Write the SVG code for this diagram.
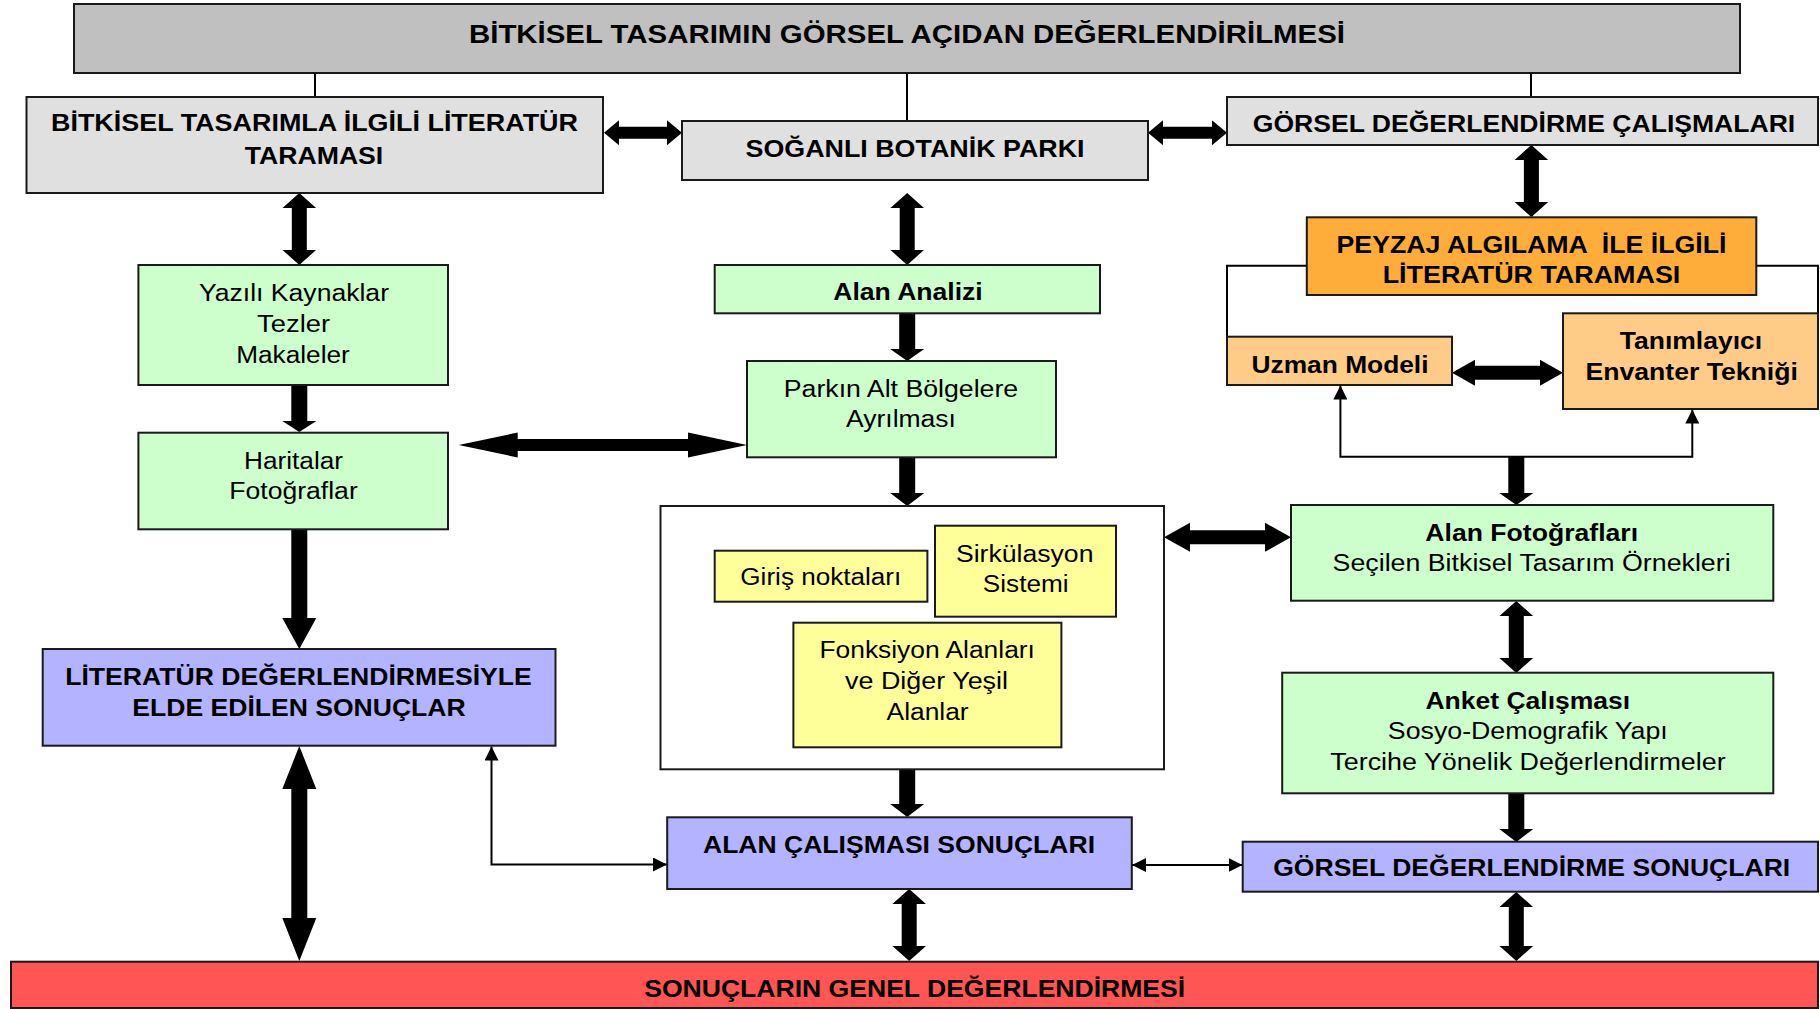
<svg xmlns="http://www.w3.org/2000/svg" width="1820" height="1009" viewBox="0 0 1820 1009">
<defs>
<style>
.box{stroke:#1a1a1a;stroke-width:2}
.gray{fill:#c0c0c0}.lgray{fill:#e0e0e0}.green{fill:#ccffcc}.yellow{fill:#ffff99}.lav{fill:#b3b3ff}.red{fill:#ff5555}.orange{fill:#ffad3a}.lorange{fill:#ffcc88}.white{fill:#ffffff}
text{font-family:"Liberation Sans",Arial,sans-serif;text-anchor:middle;fill:#000}
.t{font-size:26px;font-weight:bold}
.b{font-size:24px;font-weight:bold}
.r{font-size:23px}
.arrow{fill:#000}
.thin{fill:none;stroke:#000;stroke-width:2}
</style>
<marker id="ah" viewBox="0 0 14 14" refX="14" refY="7" markerWidth="14" markerHeight="14" markerUnits="userSpaceOnUse" orient="auto-start-reverse"><path d="M0,0 L14,7 L0,14 z" fill="#000"/></marker>
</defs>
<rect width="1820" height="1009" fill="#ffffff"/>

<g id="connectors">
<line class="thin" x1="315" y1="73" x2="315" y2="97"/>
<line class="thin" x1="907" y1="73" x2="907" y2="121"/>
<line class="thin" x1="1531" y1="73" x2="1531" y2="97"/>
<polygon class="arrow" points="604,132.7 619,120.2 619,126.7 667,126.7 667,120.2 682,132.7 667,145.2 667,138.7 619,138.7 619,145.2"/>
<polygon class="arrow" points="1148,132.7 1163,120.2 1163,126.7 1212,126.7 1212,120.2 1227,132.7 1212,145.2 1212,138.7 1163,138.7 1163,145.2"/>
<polygon class="arrow" points="1452,372.7 1475,359.7 1475,365.7 1540,365.7 1540,359.7 1563,372.7 1540,385.7 1540,379.7 1475,379.7 1475,385.7"/>
<polygon class="arrow" points="1164,537.3 1190,522.8 1190,530.3 1265,530.3 1265,522.8 1291,537.3 1265,551.8 1265,544.3 1190,544.3 1190,551.8"/>
<polygon class="arrow" points="458.7,445 517.7,432.5 517.7,439 688,439 688,432.5 747,445 688,457.5 688,451 517.7,451 517.7,457.5"/>
<polygon class="arrow" points="299.3,193 316.1,208 306.8,208 306.8,250 316.1,250 299.3,265 282.5,250 291.8,250 291.8,208 282.5,208"/>
<polygon class="arrow" points="907.2,193 924,208 914.7,208 914.7,250 924,250 907.2,265 890.4,250 899.7,250 899.7,208 890.4,208"/>
<polygon class="arrow" points="1531.4,145 1548.2,160 1538.9,160 1538.9,202 1548.2,202 1531.4,217 1514.6,202 1523.9,202 1523.9,160 1514.6,160"/>
<polygon class="arrow" points="1516.3,601 1533.1,616 1523.8,616 1523.8,658 1533.1,658 1516.3,673 1499.5,658 1508.8,658 1508.8,616 1499.5,616"/>
<polygon class="arrow" points="909.2,889 926,904 916.7,904 916.7,946 926,946 909.2,961 892.4,946 901.7,946 901.7,904 892.4,904"/>
<polygon class="arrow" points="1516.3,892 1533.1,907 1523.8,907 1523.8,946 1533.1,946 1516.3,961 1499.5,946 1508.8,946 1508.8,907 1499.5,907"/>
<polygon class="arrow" points="299.3,746 316.3,789 307.3,789 307.3,918 316.3,918 299.3,961 282.3,918 291.3,918 291.3,789 282.3,789"/>
<polygon class="arrow" points="291.3,385 307.3,385 307.3,421 316.3,421 299.3,432 282.3,421 291.3,421"/>
<polygon class="arrow" points="899.2,313 915.2,313 915.2,349 924.2,349 907.2,361 890.2,349 899.2,349"/>
<polygon class="arrow" points="899.2,457 915.2,457 915.2,493 924.2,493 907.2,506 890.2,493 899.2,493"/>
<polygon class="arrow" points="899.2,769 915.2,769 915.2,804 924.2,804 907.2,817 890.2,804 899.2,804"/>
<polygon class="arrow" points="1508.3,793 1524.3,793 1524.3,829 1533.3,829 1516.3,842 1499.3,829 1508.3,829"/>
<polygon class="arrow" points="1508.3,457 1524.3,457 1524.3,493 1533.3,493 1516.3,505 1499.3,493 1508.3,493"/>
<polygon class="arrow" points="291.3,529 307.3,529 307.3,618 316.3,618 299.3,649 282.3,618 291.3,618"/>
<path class="thin" d="M667,864.5 H491.5 V746.5" marker-start="url(#ah)" marker-end="url(#ah)"/>
<path class="thin" d="M1132,865 H1242.5" marker-start="url(#ah)" marker-end="url(#ah)"/>
<path class="thin" d="M1307,265.7 H1227 V336.7"/>
<path class="thin" d="M1756,265.7 H1818 V313.3"/>
<path class="thin" d="M1340.4,385.5 V456.7 H1692.3 V409.5" marker-start="url(#ah)" marker-end="url(#ah)"/>
</g>

<g id="title"><rect class="box gray" x="74" y="4" width="1666" height="69"/><text class="t" x="907" y="43" textLength="876" lengthAdjust="spacingAndGlyphs">BİTKİSEL TASARIMIN GÖRSEL AÇIDAN DEĞERLENDİRİLMESİ</text></g>

<g id="literatur-taramasi"><rect class="box lgray" x="26.5" y="97" width="576.5" height="96"/><text class="b" x="314.5" y="131" textLength="527" lengthAdjust="spacingAndGlyphs">BİTKİSEL TASARIMLA İLGİLİ LİTERATÜR</text><text class="b" x="314" y="163.5" textLength="138.5" lengthAdjust="spacingAndGlyphs">TARAMASI</text></g>

<g id="soganli"><rect class="box lgray" x="682" y="121" width="466" height="59"/><text class="b" x="915" y="156.5" textLength="339" lengthAdjust="spacingAndGlyphs">SOĞANLI BOTANİK PARKI</text></g>

<g id="gorsel-calismalari"><rect class="box lgray" x="1227" y="97" width="591" height="48"/><text class="b" x="1524" y="132" textLength="542.5" lengthAdjust="spacingAndGlyphs">GÖRSEL DEĞERLENDİRME ÇALIŞMALARI</text></g>

<g id="yazili"><rect class="box green" x="138.4" y="265" width="309.6" height="120"/><text class="r" x="294" y="300.5" textLength="190" lengthAdjust="spacingAndGlyphs">Yazılı Kaynaklar</text><text class="r" x="293.6" y="331.5" textLength="73" lengthAdjust="spacingAndGlyphs">Tezler</text><text class="r" x="293" y="362.5" textLength="113.5" lengthAdjust="spacingAndGlyphs">Makaleler</text></g>

<g id="haritalar"><rect class="box green" x="138.4" y="432.7" width="309.6" height="96.6"/><text class="r" x="293.5" y="468.5" textLength="99" lengthAdjust="spacingAndGlyphs">Haritalar</text><text class="r" x="293.5" y="498.5" textLength="128.5" lengthAdjust="spacingAndGlyphs">Fotoğraflar</text></g>

<g id="alan-analizi"><rect class="box green" x="714.7" y="265" width="385.3" height="48.3"/><text class="b" x="908" y="300" textLength="149.5" lengthAdjust="spacingAndGlyphs">Alan Analizi</text></g>

<g id="parkin"><rect class="box green" x="747" y="361" width="309" height="96.3"/><text class="r" x="901" y="397" textLength="234.4" lengthAdjust="spacingAndGlyphs">Parkın Alt Bölgelere</text><text class="r" x="901" y="427" textLength="110" lengthAdjust="spacingAndGlyphs">Ayrılması</text></g>

<g id="container"><rect class="box white" x="660.5" y="506" width="503.5" height="263.3"/></g>

<g id="giris"><rect class="box yellow" x="714.7" y="550.7" width="212.7" height="51"/><text class="r" x="820.8" y="585" textLength="161" lengthAdjust="spacingAndGlyphs">Giriş noktaları</text></g>

<g id="sirkulasyon"><rect class="box yellow" x="935" y="525.7" width="181" height="91"/><text class="r" x="1024.7" y="562" textLength="137.6" lengthAdjust="spacingAndGlyphs">Sirkülasyon</text><text class="r" x="1025.7" y="592" textLength="85.8" lengthAdjust="spacingAndGlyphs">Sistemi</text></g>

<g id="fonksiyon"><rect class="box yellow" x="793.4" y="622.7" width="268" height="124.6"/><text class="r" x="927.2" y="658" textLength="215.5" lengthAdjust="spacingAndGlyphs">Fonksiyon Alanları</text><text class="r" x="926.5" y="688.5" textLength="163" lengthAdjust="spacingAndGlyphs">ve Diğer Yeşil</text><text class="r" x="927.6" y="719.5" textLength="82" lengthAdjust="spacingAndGlyphs">Alanlar</text></g>

<g id="alan-calismasi-sonuclari"><rect class="box lav" x="667.2" y="817.3" width="464.6" height="71.7"/><text class="b" x="899" y="853" textLength="392" lengthAdjust="spacingAndGlyphs">ALAN ÇALIŞMASI SONUÇLARI</text></g>

<g id="literatur-sonuclar"><rect class="box lav" x="42.7" y="649" width="512.8" height="96.7"/><text class="b" x="298.5" y="684.5" textLength="466.6" lengthAdjust="spacingAndGlyphs">LİTERATÜR DEĞERLENDİRMESİYLE</text><text class="b" x="299" y="715.5" textLength="333.3" lengthAdjust="spacingAndGlyphs">ELDE EDİLEN SONUÇLAR</text></g>

<g id="gorsel-sonuclari"><rect class="box lav" x="1242.7" y="841.7" width="575.3" height="50"/><text class="b" x="1531.7" y="875.5" textLength="517" lengthAdjust="spacingAndGlyphs">GÖRSEL DEĞERLENDİRME SONUÇLARI</text></g>

<g id="anket"><rect class="box green" x="1282.2" y="672.7" width="491.1" height="120.6"/><text class="b" x="1527.8" y="708.5" textLength="204.8" lengthAdjust="spacingAndGlyphs">Anket Çalışması</text><text class="r" x="1527.8" y="738.5" textLength="280" lengthAdjust="spacingAndGlyphs">Sosyo-Demografik Yapı</text><text class="r" x="1528" y="769.5" textLength="395.4" lengthAdjust="spacingAndGlyphs">Tercihe Yönelik Değerlendirmeler</text></g>

<g id="alan-fotograflari"><rect class="box green" x="1291" y="505" width="482.3" height="95.7"/><text class="b" x="1531.7" y="540.5" textLength="212.7" lengthAdjust="spacingAndGlyphs">Alan Fotoğrafları</text><text class="r" x="1531.6" y="571" textLength="398" lengthAdjust="spacingAndGlyphs">Seçilen Bitkisel Tasarım Örnekleri</text></g>

<g id="peyzaj"><rect class="box orange" x="1306.8" y="217.3" width="449.5" height="77.7"/><text class="b" x="1531.5" y="252.5" textLength="390" lengthAdjust="spacingAndGlyphs" xml:space="preserve">PEYZAJ ALGILAMA  İLE İLGİLİ</text><text class="b" x="1531.5" y="282.5" textLength="297.7" lengthAdjust="spacingAndGlyphs">LİTERATÜR TARAMASI</text></g>

<g id="uzman"><rect class="box lorange" x="1227" y="336.7" width="225" height="48.3"/><text class="b" x="1340" y="372.5" textLength="177" lengthAdjust="spacingAndGlyphs">Uzman Modeli</text></g>

<g id="tanimlayici"><rect class="box lorange" x="1563" y="313.3" width="255" height="95.7"/><text class="b" x="1691" y="348.5" textLength="142.3" lengthAdjust="spacingAndGlyphs">Tanımlayıcı</text><text class="b" x="1691.7" y="379.5" textLength="212.4" lengthAdjust="spacingAndGlyphs">Envanter Tekniği</text></g>

<g id="genel-degerlendirme"><rect class="box red" x="11" y="961.7" width="1807" height="46.3"/><text class="b" x="914.7" y="996.5" textLength="541" lengthAdjust="spacingAndGlyphs">SONUÇLARIN GENEL DEĞERLENDİRMESİ</text></g>
</svg>
